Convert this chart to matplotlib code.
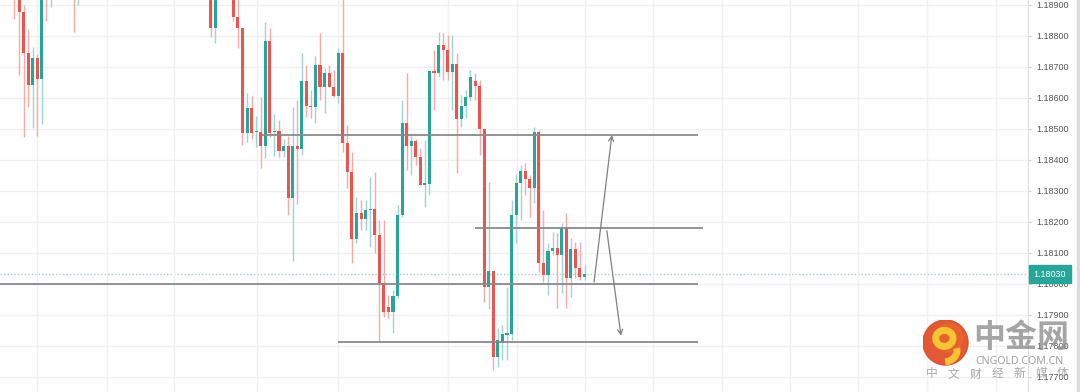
import numpy as np
import matplotlib
matplotlib.use("Agg")
import matplotlib.pyplot as plt
from matplotlib.patches import Circle, Arc, Rectangle

nan = np.nan

# candle OHLC, one slot per bar (nan = bar above the visible window)
opens = [1.18980, 1.18930, 1.18877, 1.18745, 1.18641, 1.18727, 1.18659, 1.18990, 1.18950, nan,
         nan, nan, nan, 1.19000, 1.18960] + [nan] * 28 + [
         1.18990, 1.18826, nan, nan, nan, 1.18960, 1.18861, 1.18824, 1.18485, 1.18566,
         1.18489, 1.18490, 1.18445, 1.18784, 1.18490, 1.18494, 1.18429, 1.18445, 1.18275, 1.18445,
         1.18434, 1.18655, 1.18573, 1.18569, 1.18705, 1.18633, 1.18681, 1.18635, 1.18605, 1.18745,
         1.18453, 1.18361, 1.18143, 1.18229, 1.18209, 1.18238, 1.18242, 1.18157, 1.18001, 1.17925,
         1.17909, 1.17961, 1.18222, 1.18517, 1.18445, 1.18461, 1.18408, 1.18318, 1.18322, 1.18686,
         1.18681, 1.18770, 1.18754, 1.18682, 1.18709, 1.18531, 1.18573, 1.18603, 1.18655, 1.18638,
         1.18498, 1.17990, 1.18042, 1.17765, 1.17812, 1.17835, 1.17838, 1.18222, 1.18324, 1.18364,
         1.18338, 1.18308, 1.18488, 1.18066, 1.18028, 1.18105, 1.18114, 1.18093, 1.18179, 1.18018,
         1.18111, 1.18050, 1.18021]
highs = [1.19000, 1.18960, 1.18900, 1.18821, 1.18764, 1.18741, 1.18990, 1.19010, 1.19020, nan,
         nan, nan, nan, 1.19030, 1.19020] + [nan] * 28 + [
         1.19010, 1.18980, nan, nan, nan, 1.18990, 1.18930, 1.18824, 1.18614, 1.18605,
         1.18541, 1.18603, 1.18843, 1.18824, 1.18547, 1.18528, 1.18466, 1.18477, 1.18571, 1.18593,
         1.18743, 1.18705, 1.18625, 1.18734, 1.18808, 1.18695, 1.18705, 1.18689, 1.18759, 1.18930,
         1.18512, 1.18426, 1.18281, 1.18270, 1.18270, 1.18345, 1.18361, 1.18206, 1.18206, 1.17963,
         1.17980, 1.18254, 1.18593, 1.18679, 1.18485, 1.18466, 1.18437, 1.18464, 1.18686, 1.18754,
         1.18813, 1.18808, 1.18802, 1.18802, 1.18743, 1.18609, 1.18625, 1.18689, 1.18680, 1.18657,
         1.18498, 1.18329, 1.18042, 1.17857, 1.17867, 1.17989, 1.18270, 1.18354, 1.18383, 1.18388,
         1.18351, 1.18506, 1.18496, 1.18238, 1.18130, 1.18168, 1.18164, 1.18195, 1.18228, 1.18147,
         1.18136, 1.18136, 1.18060]
lows = [1.18854, 1.18673, 1.18474, 1.18571, 1.18501, 1.18476, 1.18514, 1.18847, 1.18894, nan,
        nan, nan, nan, 1.18811, 1.18899] + [nan] * 28 + [
        1.18797, 1.18777, nan, nan, nan, 1.18848, 1.18761, 1.18448, 1.18458, 1.18466,
        1.18442, 1.18372, 1.18404, 1.18472, 1.18412, 1.18410, 1.18410, 1.18222, 1.18074, 1.18257,
        1.18415, 1.18539, 1.18533, 1.18517, 1.18593, 1.18552, 1.18634, 1.18603, 1.18582, 1.18426,
        1.18308, 1.18066, 1.18130, 1.18173, 1.18173, 1.18119, 1.18098, 1.17813, 1.17894, 1.17889,
        1.17841, 1.17954, 1.18216, 1.18367, 1.18351, 1.18383, 1.18318, 1.18248, 1.18286, 1.18560,
        1.18668, 1.18657, 1.18657, 1.18560, 1.18356, 1.18506, 1.18533, 1.18590, 1.18593, 1.18415,
        1.17942, 1.17917, 1.17721, 1.17731, 1.17754, 1.17754, 1.17818, 1.18131, 1.18205, 1.18286,
        1.18216, 1.18259, 1.18039, 1.18006, 1.17964, 1.18093, 1.17922, 1.17969, 1.17922, 1.17958,
        1.18018, 1.18012, 1.18012]
closes = [1.18930, 1.18877, 1.18745, 1.18641, 1.18727, 1.18659, 1.18960, 1.18950, 1.18990, nan,
          nan, nan, nan, 1.18960, 1.18990] + [nan] * 28 + [
          1.18826, 1.18960, nan, nan, nan, 1.18861, 1.18824, 1.18485, 1.18566, 1.18487,
          1.18493, 1.18445, 1.18784, 1.18487, 1.18494, 1.18429, 1.18445, 1.18275, 1.18445, 1.18434,
          1.18655, 1.18573, 1.18569, 1.18705, 1.18633, 1.18681, 1.18633, 1.18605, 1.18745, 1.18453,
          1.18361, 1.18143, 1.18229, 1.18209, 1.18238, 1.18242, 1.18157, 1.18001, 1.17909, 1.17909,
          1.17961, 1.18222, 1.18517, 1.18445, 1.18461, 1.18408, 1.18318, 1.18325, 1.18686, 1.18681,
          1.18770, 1.18754, 1.18682, 1.18709, 1.18531, 1.18573, 1.18603, 1.18666, 1.18638, 1.18498,
          1.17990, 1.18042, 1.17763, 1.17818, 1.17838, 1.17840, 1.18222, 1.18324, 1.18364, 1.18338,
          1.18308, 1.18488, 1.18066, 1.18028, 1.18105, 1.18114, 1.18093, 1.18179, 1.18018, 1.18111,
          1.18050, 1.18021, 1.18030]

last_price = 1.18030
price_ticks = [1.177, 1.178, 1.179, 1.180, 1.181, 1.182, 1.183, 1.184, 1.185, 1.186, 1.187, 1.188, 1.189]
time_grid = [5, 20.3, 35, 53.2, 70.9, 95.1, 110.2, 125.1, 140, 155.2, 170, 185, 200.1, 215.2]

# drawn levels: (price, start bar, end bar)
levels = [(1.18480, 54.3, 149.9), (1.18181, 101.0, 151.0), (1.18000, -4, 149.9), (1.17813, 70.9, 149.9)]
# arrows: (bar0, price0, bar1, price1)
arrows = [(127.1, 1.18006, 131.0, 1.18480), (129.9, 1.18171, 133.0, 1.17832)]

UP = "#26a69a"
DOWN = "#ef5350"

fig = plt.figure(figsize=(10.8, 3.92), dpi=100)
ax = fig.add_axes([0, 0, 1028 / 1080, 1])

o = np.array(opens); h = np.array(highs); l = np.array(lows); c = np.array(closes)
x = np.arange(len(o))
ok = ~np.isnan(o)
up = ok & (c >= o)
dn = ok & (c < o)

ax.vlines(x[up], l[up], h[up], color="#9fd6d1", lw=1, zorder=2)
ax.vlines(x[dn], l[dn], h[dn], color="#f7aaa8", lw=1, zorder=2)
for m, col in [(up, UP), (dn, DOWN)]:
    body = np.maximum(np.abs(c[m] - o[m]), 0.00003)
    ax.bar(x[m], body, bottom=np.minimum(o[m], c[m]), width=0.68, color=col, lw=0, zorder=3)

for p, a, b in levels:
    ax.plot([a, b], [p, p], color="#8a8a8a", lw=1.3, zorder=4, solid_capstyle="butt")

for a0, p0, a1, p1 in arrows:
    ax.annotate("", xy=(a1, p1), xytext=(a0, p0),
                arrowprops=dict(arrowstyle="->", color="#808080", lw=0.9, mutation_scale=9,
                                shrinkA=0, shrinkB=0), zorder=4)

ax.axhline(last_price, color=UP, lw=1, ls=(0, (1, 1.5)), alpha=0.45, zorder=1)

ax.set_xlim(-14.5 / 4.56, (1028 - 14.5) / 4.56)
ax.set_ylim(1.176506, 1.189152)
ax.set_xticks(time_grid)
ax.set_xticklabels([])
ax.set_yticks(price_ticks)
ax.set_yticklabels([f"{t:.5f}" for t in price_ticks], family="Liberation Sans")
ax.yaxis.tick_right()
ax.tick_params(axis="x", length=0)
ax.tick_params(axis="y", length=2.5, color="#d0d0d0", pad=3.5, labelsize=6.5, labelcolor="#555555")
ax.grid(True, color="#f0f0f0", lw=1, zorder=0)
for s in ["top", "left", "bottom"]:
    ax.spines[s].set_visible(False)
ax.spines["right"].set_color("#e0e0e0")

ax.text(1.0055, last_price, f"{last_price:.5f}", transform=ax.get_yaxis_transform(),
        ha="left", va="center", fontsize=6.5, family="Liberation Sans", color="white",
        clip_on=False, zorder=6, bbox=dict(boxstyle="square,pad=0.5", fc=UP, ec=UP))

fig.patches.append(Rectangle((1077 / 1080, 0), 3 / 1080, 1, transform=fig.transFigure,
                             color="#dcdcdc", zorder=0))

# watermark
lg = fig.add_axes([(945.5 - 23) / 1080, (392 - 342.5 - 23) / 392, 46 / 1080, 46 / 392])
lg.set_xlim(-1, 1); lg.set_ylim(-1, 1); lg.set_aspect("equal"); lg.axis("off")
lg.add_patch(Circle((0, 0), 0.98, color="#e2471f", alpha=0.9))
lg.add_patch(Circle((0.15, 0.2), 0.6, color="#ea6a2a", alpha=0.6))
lg.add_patch(Arc((-0.05, 0.18), 0.75, 0.7, theta1=-40, theta2=320, color="#f7c531", lw=5))
lg.add_patch(Arc((-0.1, -0.35), 1.2, 1.0, theta1=-80, theta2=10, color="#f7c531", lw=5))

cjk = ["Noto Sans CJK SC", "DejaVu Sans"]
fig.text(1021 / 1080, 1 - 338 / 392, "中金网", ha="center", va="center", fontsize=23,
         fontweight="bold", family=cjk, color="#8f8f8f", alpha=0.8)
fig.text(1020 / 1080, 1 - 361 / 392, "CNGOLD.COM.CN", ha="center", va="center", fontsize=7.6,
         family=["Noto Sans"], color="#8f8f8f", alpha=0.85)
for k, ch in enumerate("中文财经新媒体"):
    fig.text((932 + k * 21.8) / 1080, 1 - 374 / 392, ch, ha="center", va="center", fontsize=8.5,
             family=cjk, color="#9a9a9a", alpha=0.85)

fig.savefig("out.png", dpi=100, facecolor="white")
